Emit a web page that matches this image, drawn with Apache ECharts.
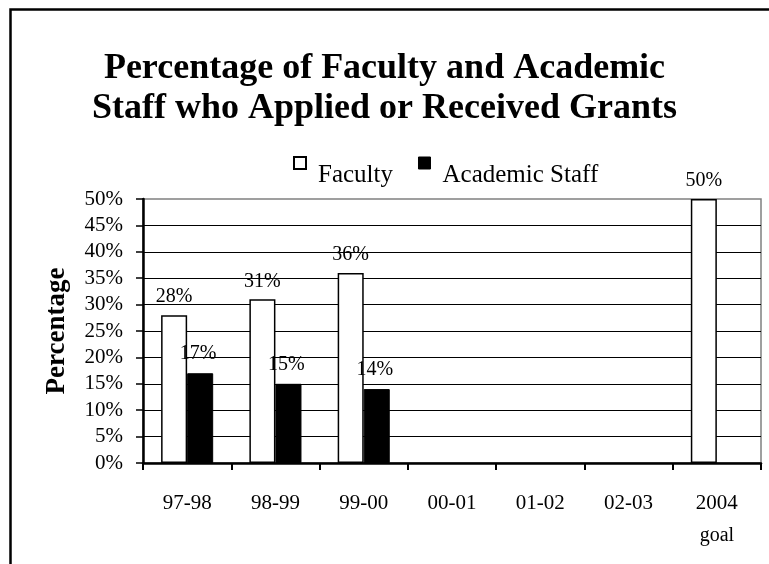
<!DOCTYPE html>
<html>
<head>
<meta charset="utf-8">
<script src="https://cdn.jsdelivr.net/npm/echarts@6/dist/echarts.min.js"></script>
<style>
  html, body { margin: 0; padding: 0; background: #fff; }
  #chart { width: 769px; height: 564px; }
</style>
</head>
<body>
<div id="chart"></div>
<script>
// --- DATEN ---
const categories = ['97-98', '98-99', '99-00', '00-01', '01-02', '02-03', '2004\ngoal'];
const faculty = [28, 31, 36, null, null, null, 50];
const academicStaff = [17, 15, 14, null, null, null, null];
const yTicks = { min: 0, max: 50, interval: 5 };

const FONT = "'Liberation Serif', 'Times New Roman', serif";

const chart = echarts.init(document.getElementById('chart'));

chart.setOption({
    backgroundColor: '#fff',
    animation: false,
    textStyle: { fontFamily: FONT, color: '#000' },
    graphic: [{
        type: 'rect',
        shape: { x: 10.5, y: 9.5, width: 1000, height: 1000 },
        style: { fill: 'none', stroke: '#000', lineWidth: 2.5 },
        silent: true
    }],
    title: {
        text: 'Percentage of Faculty and Academic\nStaff who Applied or Received Grants',
        left: 'center',
        top: 44,
        textStyle: { fontFamily: FONT, fontSize: 36, fontWeight: 'bold', lineHeight: 40, color: '#000' }
    },
    legend: {
        left: 293,
        top: 156,
        padding: 0,
        itemWidth: 12,
        itemHeight: 12,
        itemGap: 25,
        icon: 'rect',
        formatter: name => '{t|' + name + '}',
        textStyle: {
            fontFamily: FONT, fontSize: 25, color: '#000',
            rich: { t: { fontFamily: FONT, fontSize: 25, color: '#000', padding: [24, 0, 0, 7] } }
        },
        data: [
            { name: 'Faculty', itemStyle: { color: '#fff', borderColor: '#000', borderWidth: 2 } },
            { name: 'Academic Staff', itemStyle: { color: '#000', borderColor: '#000', borderWidth: 1 } }
        ]
    },
    grid: {
        left: 143, right: 8, top: 199, bottom: 101,
        show: true, borderColor: '#808080', borderWidth: 1.5, backgroundColor: 'transparent'
    },
    xAxis: {
        type: 'category',
        data: categories,
        axisLine: { lineStyle: { color: '#000', width: 2.5 } },
        axisTick: { show: true, length: 7, lineStyle: { color: '#000', width: 2 } },
        axisLabel: {
            margin: 28,
            interval: 0,
            fontFamily: FONT,
            fontSize: 21,
            color: '#000',
            lineHeight: 24,
            formatter: v => {
                const parts = v.split('\n');
                return parts.length > 1 ? parts[0] + '\n{g|' + parts[1] + '}' : v;
            },
            rich: { g: { fontFamily: FONT, fontSize: 20, color: '#000', lineHeight: 41 } }
        }
    },
    yAxis: {
        type: 'value',
        min: yTicks.min,
        max: yTicks.max,
        interval: yTicks.interval,
        name: 'Percentage',
        nameLocation: 'middle',
        nameGap: 72,
        nameRotate: 90,
        nameTextStyle: { fontFamily: FONT, fontSize: 27, fontWeight: 'bold', color: '#000' },
        axisLine: { show: true, lineStyle: { color: '#000', width: 2.5 } },
        axisTick: { show: true, length: 7, lineStyle: { color: '#000', width: 1.5 } },
        axisLabel: { margin: 20, fontFamily: FONT, fontSize: 21, color: '#000', formatter: '{value}%' },
        splitLine: { show: true, showMaxLine: false, lineStyle: { color: '#000', width: 1 } }
    },
    series: [
        {
            name: 'Faculty',
            type: 'bar',
            data: faculty,
            barGap: '0%',
            barCategoryGap: '41%',
            itemStyle: { color: '#fff', borderColor: '#000', borderWidth: 1.5 },
            label: {
                show: true, position: 'top', distance: 8,
                fontFamily: FONT, fontSize: 20, color: '#000',
                formatter: p => p.value + '%'
            }
        },
        {
            name: 'Academic Staff',
            type: 'bar',
            data: academicStaff,
            itemStyle: { color: '#000', borderColor: '#000', borderWidth: 1 },
            label: {
                show: true, position: 'top', distance: 9, offset: [-2, 0],
                fontFamily: FONT, fontSize: 20, color: '#000',
                formatter: p => p.value + '%'
            }
        }
    ]
});

window.addEventListener('resize', () => chart.resize());
</script>
</body>
</html>
